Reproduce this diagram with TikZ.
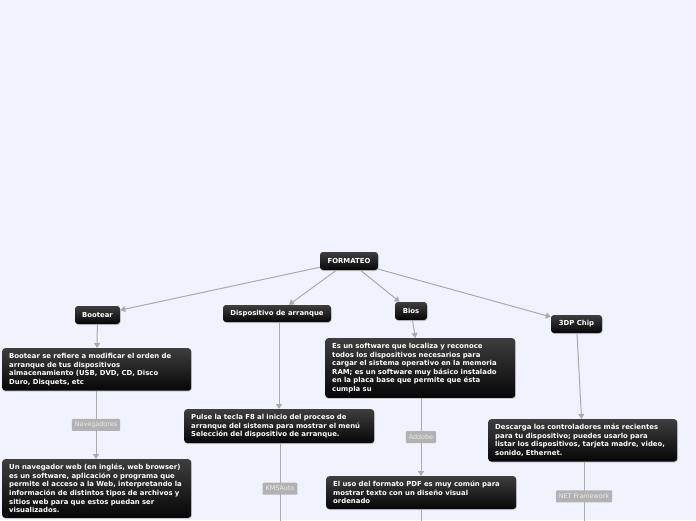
\documentclass[tikz,border=0pt]{standalone}
\usepackage{fontspec}
\usepackage{xcolor}
\usepackage{tikz}
\usetikzlibrary{arrows.meta, shadows}
\newfontfamily\mapfont{DejaVu Sans}
\definecolor{mapbg}{RGB}{240,243,253}
\definecolor{linkcolor}{RGB}{170,170,170}
\definecolor{tagcolor}{RGB}{178,178,178}
\definecolor{tagtext}{RGB}{236,236,236}
\definecolor{boxtop}{RGB}{62,62,62}
\definecolor{boxbottom}{RGB}{6,6,6}

\begin{document}
\begin{tikzpicture}[
    x=1pt, y=-1pt,
    element/.style={rounded corners=3pt, top color=boxtop, bottom color=boxbottom, text=white,
        font=\mapfont\bfseries\fontsize{6.9}{8.6}\selectfont, inner sep=0pt, align=center,
        minimum height=18pt, drop shadow={shadow xshift=0.6pt, shadow yshift=-1pt, opacity=0.35}},
    desc/.style={element, anchor=north west, align=left, inner xsep=7pt, inner ysep=5pt, minimum height=0pt},
    tag/.style={fill=tagcolor, text=tagtext, font=\mapfont\fontsize{6.4}{7}\selectfont,
        inner xsep=3pt, inner ysep=0pt, minimum height=12pt, rounded corners=1pt},
    arrow/.style={-{Triangle[length=5pt, width=6pt]}, linkcolor, line width=1pt}
]
    % page
    \useasboundingbox (0,0) rectangle (696,520);
    \clip (0,0) rectangle (696,520);
    \fill[mapbg] (0,0) rectangle (696,520);

    % Central topic and main branches
    \node[element, minimum width=58pt] (formateo) at (349,261) {FORMATEO};
    \node[element, minimum width=45pt] (bootear) at (97.5,315) {Bootear};
    \node[element, minimum width=108pt, minimum height=17pt] (dispositivo) at (277,313.5) {Dispositivo de arranque};
    \node[element, minimum width=32pt] (bios) at (411,311) {Bios};
    \node[element, minimum width=51pt] (chip) at (576.5,324) {3DP Chip};

    % Descriptions
    \node[desc, text width=175pt] (bootdesc) at (2,348) {Bootear se refiere a modificar el orden de\\arranque de tus dispositivos\\almacenamiento (USB, DVD, CD, Disco\\Duro, Disquets, etc};
    \node[desc, text width=175pt] (navdesc) at (2,459) {Un navegador web (en inglés, web browser)\\es un software, aplicación o programa que\\permite el acceso a la Web, interpretando la\\información de distintos tipos de archivos y\\sitios web para que estos puedan ser\\visualizados.};
    \node[desc, text width=176pt] (pulsedesc) at (184,409) {Pulse la tecla F8 al inicio del proceso de\\arranque del sistema para mostrar el menú\\Selección del dispositivo de arranque.};
    \node[desc, text width=176pt] (biosdesc) at (325,338) {Es un software que localiza y reconoce\\todos los dispositivos necesarios para\\cargar el sistema operativo en la memoria\\RAM; es un software muy básico instalado\\en la placa base que permite que ésta\\cumpla su};
    \node[desc, text width=176pt] (pdfdesc) at (326,476) {El uso del formato PDF es muy común para\\mostrar texto con un diseño visual\\ordenado};
    \node[desc, text width=175pt] (chipdesc) at (488,419) {Descarga los controladores más recientes\\para tu dispositivo; puedes usarlo para\\listar los dispositivos, tarjeta madre, video,\\sonido, Ethernet.};

    % Continuations below the page
    \coordinate (kmsnext) at (280,534);
    \coordinate (pdfnext) at (421,560);
    \coordinate (netnext) at (584,531);

    % Connections
    \draw[arrow] (formateo) -- (bootear);
    \draw[arrow] (formateo) -- (dispositivo);
    \draw[arrow] (formateo) -- (bios);
    \draw[arrow] (formateo) -- (chip);
    \draw[arrow] (bootear) -- (bootdesc);
    \draw[arrow] (dispositivo.south -| 279,0) -- (pulsedesc.north -| 279,0);
    \draw[arrow] (bios) -- (biosdesc);
    \draw[arrow] (chip) -- (chipdesc);

    % Labelled connections
    \draw[arrow] (bootdesc.south -| 96,0) -- node[tag] (navtag) {Navegadores} (navdesc.north -| 96,0);
    \draw[arrow] (pulsedesc.south -| 280,0) -- node[tag] (kmstag) {KMSAuto} (kmsnext);
    \draw[arrow] (biosdesc.south -| 421,0) -- node[tag] (adobetag) {Addobe} (pdfdesc.north -| 421,0);
    \draw[arrow] (chipdesc.south -| 584,0) -- node[tag] (nettag) {NET Framework} (netnext);
    \draw[arrow] (pdfdesc.south -| 421,0) -- (pdfnext);
\end{tikzpicture}
\end{document}
